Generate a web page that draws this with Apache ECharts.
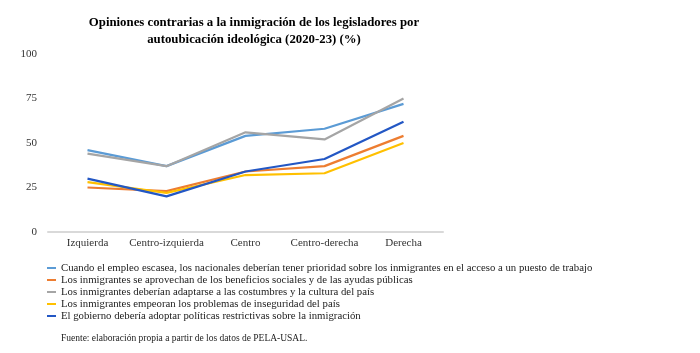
<!DOCTYPE html>
<html>
<head>
<meta charset="utf-8">
<script src="https://cdn.jsdelivr.net/npm/echarts@6/dist/echarts.min.js"></script>
<style type="text/css">
html, body {margin: 0; padding: 0; background: #fff;}
#chart {width: 700px; height: 353px;}
</style>
</head>
<body>
<div id="chart"></div>
<script>
// categorías del eje x
var categorias = ['Izquierda', 'Centro-izquierda', 'Centro', 'Centro-derecha', 'Derecha'];
var ticksY = [0, 25, 50, 75, 100];

var nombres = [
    'Cuando el empleo escasea, los nacionales deberían tener prioridad sobre los inmigrantes en el acceso a un puesto de trabajo',
    'Los inmigrantes se aprovechan de los beneficios sociales y de las ayudas públicas',
    'Los inmigrantes deberían adaptarse a las costumbres y la cultura del país',
    'Los inmigrantes empeoran los problemas de inseguridad del país',
    'El gobierno debería adoptar políticas restrictivas sobre la inmigración'
];

var empleo = [46, 37, 54, 58, 72];
var beneficios = [25, 23, 34, 37, 54];
var costumbres = [44, 37, 56, 52, 75];
var inseguridad = [28, 22, 32, 33, 50];
var politicas = [30, 20, 34, 41, 62];

var colores = ['#5b9bd5', '#ed7d31', '#a5a5a5', '#ffc000', '#2357c4'];
var datos = [empleo, beneficios, costumbres, inseguridad, politicas];

var fuente = 'Liberation Serif, Times New Roman, serif';

var series = datos.map(function (d, i) {
    return {
        name: nombres[i],
        type: 'line',
        data: d,
        symbol: 'none',
        lineStyle: {width: 2.2, color: colores[i]},
        itemStyle: {color: colores[i]},
        animation: false
    };
});

var chart = echarts.init(document.getElementById('chart'));
chart.setOption({
    title: [{
        text: 'Opiniones contrarias a la inmigración de los legisladores por\nautoubicación ideológica (2020-23) (%)',
        left: 249,
        top: 9,
        textAlign: 'center',
        textStyle: {fontFamily: fuente, fontSize: 12.8, fontWeight: 'bold', color: '#000', lineHeight: 17}
    }, {
        text: 'Fuente: elaboración propia a partir de los datos de PELA-USAL.',
        left: 56,
        top: 328,
        textStyle: {fontFamily: fuente, fontSize: 9.5, fontWeight: 'normal', color: '#222'}
    }],
    legend: {
        orient: 'vertical',
        left: 42,
        top: 257,
        icon: 'rect',
        itemWidth: 9,
        itemHeight: 2,
        itemGap: 0,
        textStyle: {fontFamily: fuente, fontSize: 10.75, color: '#222', lineHeight: 12}
    },
    grid: {left: 48, right: 257, top: 54, bottom: 121},
    xAxis: {
        type: 'category',
        data: categorias,
        boundaryGap: true,
        axisLine: {lineStyle: {color: '#d9d9d9', width: 2}},
        axisTick: {show: false},
        axisLabel: {interval: 0, fontFamily: fuente, fontSize: 11, color: '#333', margin: 6}
    },
    yAxis: {
        type: 'value',
        min: ticksY[0],
        max: ticksY[ticksY.length - 1],
        interval: 25,
        splitLine: {show: false},
        axisLine: {show: false},
        axisTick: {show: false},
        axisLabel: {fontFamily: fuente, fontSize: 11, color: '#333', margin: 11}
    },
    series: series
});
</script>
</body>
</html>
